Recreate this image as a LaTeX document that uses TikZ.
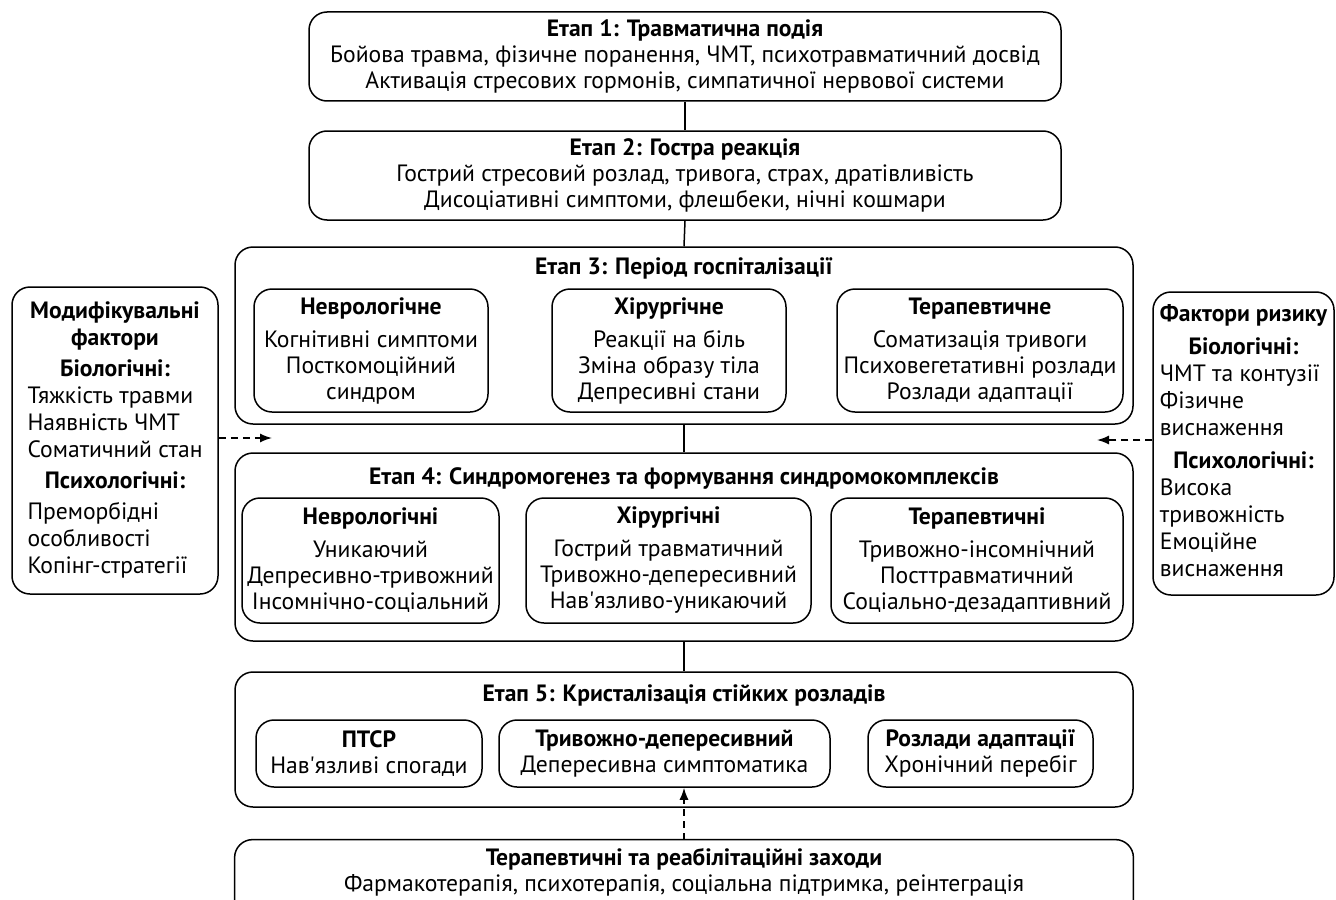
\documentclass[tikz,border=0pt]{standalone}
\usepackage{fontspec}
\setmainfont{PT Sans}
\usetikzlibrary{arrows.meta}
\newcommand{\sidehead}[1]{\multicolumn{1}{@{}c@{}}{\bfseries #1}}
\begin{document}
\begin{tikzpicture}[x=0.5pt,y=-0.5pt,
    every node/.style={font=\fontsize{11.8}{13}\selectfont, inner sep=0pt},
    box/.style={draw, line width=0.75pt, rounded corners=9pt, align=center},
    sidebox/.style={box, font=\fontsize{11.8}{13.5}\selectfont},
    link/.style={line width=0.75pt},
    dasharrow/.style={line width=0.75pt, dash pattern=on 3.5pt off 2.5pt, -{Latex[length=6pt,width=4.5pt]}}]
  \useasboundingbox (0,0) rectangle (1336,899);
  \clip (0,0) rectangle (1336,899);

  \node[box, minimum width=376pt, minimum height=44.5pt] (s1) at (685,56.5)
    {\textbf{Етап 1: Травматична подія}\\Бойова травма, фізичне поранення, ЧМТ, психотравматичний досвід\\Активація стресових гормонів, симпатичної нервової системи};
  \node[box, minimum width=376pt, minimum height=44.5pt] (s2) at (685,175.5)
    {\textbf{Етап 2: Гостра реакція}\\Гострий стресовий розлад, тривога, страх, дратівливість\\Дисоціативні симптоми, флешбеки, нічні кошмари};

  \node[box, minimum width=449pt, minimum height=88.5pt] (s3) at (684,335.5) {};
  \node[font=\fontsize{11.8}{13}\bfseries] (s3t) at (684,268) {Етап 3: Період госпіталізації};
  \node[box, minimum width=117pt, minimum height=61.5pt] (s3a) at (371,350.5)
    {\textbf{Неврологічне}\\[3.5pt]Когнітивні симптоми\\Посткомоційний\\синдром};
  \node[box, minimum width=117pt, minimum height=61.5pt] (s3b) at (669,350.5)
    {\textbf{Хірургічне}\\[3.5pt]Реакції на біль\\Зміна образу тіла\\Депресивні стани};
  \node[box, minimum width=143pt, minimum height=61.5pt] (s3c) at (980,350.5)
    {\textbf{Терапевтичне}\\[3.5pt]Соматизація тривоги\\Психовегетативні розлади\\Розлади адаптації};

  \node[box, minimum width=449pt, minimum height=94pt] (s4) at (684,547) {};
  \node[font=\fontsize{11.8}{13}\bfseries] (s4t) at (684,478) {Етап 4: Синдромогенез та формування синдромокомплексів};
  \node[box, minimum width=128.5pt, minimum height=62.5pt] (s4a) at (370.5,560.5)
    {\textbf{Неврологічні}\\[3.5pt]Уникаючий\\Депресивно-тривожний\\Інсомнічно-соціальний};
  \node[box, minimum width=142.5pt, minimum height=62.5pt] (s4b) at (668.5,560.5)
    {\textbf{Хірургічні}\\[3.5pt]Гострий травматичний\\Тривожно-депересивний\\Нав\textquotesingle язливо-уникаючий};
  \node[box, minimum width=146pt, minimum height=62.5pt] (s4c) at (977,560.5)
    {\textbf{Терапевтичні}\\[3.5pt]Тривожно-інсомнічний\\Посттравматичний\\Соціально-дезадаптивний};

  \node[box, minimum width=449pt, minimum height=67.5pt] (s5) at (684,739.5) {};
  \node[font=\fontsize{11.8}{13}\bfseries] (s5t) at (684,695) {Етап 5: Кристалізація стійких розладів};
  \node[box, minimum width=113pt, minimum height=33.5pt] (s5a) at (369,753.5)
    {\textbf{ПТСР}\\Нав\textquotesingle язливі спогади};
  \node[box, minimum width=165.5pt, minimum height=33.5pt] (s5b) at (664.5,753.5)
    {\textbf{Тривожно-депересивний}\\Депересивна симптоматика};
  \node[box, minimum width=112.5pt, minimum height=33.5pt] (s5c) at (980.5,753.5)
    {\textbf{Розлади адаптації}\\Хронічний перебіг};

  \node[align=center, minimum width=449pt, minimum height=32pt] (ther) at (684,872)
    {\textbf{Терапевтичні та реабілітаційні заходи}\\Фармакотерапія, психотерапія, соціальна підтримка, реінтеграція};
  \draw[box] (ther.north west) rectangle ([yshift=-20pt]ther.south east);

  \node[sidebox, minimum width=103pt, minimum height=153.5pt] (mod) at (115,440.5)
    {\begin{tabular}{@{}l@{}}
      \sidehead{Модифікувальні}\\
      \sidehead{фактори}\\[2pt]
      \sidehead{Біологічні:}\\
      Тяжкість травми\\
      Наявність ЧМТ\\
      Соматичний стан\\[2pt]
      \sidehead{Психологічні:}\\[2pt]
      Преморбідні\\
      особливості\\
      Копінг-стратегії
    \end{tabular}};
  \node[sidebox, minimum width=90.5pt, minimum height=151.5pt] (risk) at (1243.5,443.5)
    {\begin{tabular}{@{}l@{}}
      \sidehead{Фактори ризику}\\[3pt]
      \sidehead{Біологічні:}\\
      ЧМТ та контузії\\
      Фізичне\\
      виснаження\\[3pt]
      \sidehead{Психологічні:}\\
      Висока\\
      тривожність\\
      Емоційне\\
      виснаження
    \end{tabular}};

  \foreach \a/\b in {s1/s2,s2/s3,s3/s4,s4/s5}
    \draw[link] (\a.south) -- (\b.north);
  \draw[dasharrow] (ther.north) -- (ther.north |- s5b.south);
  \coordinate (modin) at (272,438);
  \coordinate (riskin) at (1097,440);
  \draw[dasharrow] (mod.east |- modin) -- (modin);
  \draw[dasharrow] (risk.west |- riskin) -- (riskin);
\end{tikzpicture}
\end{document}
